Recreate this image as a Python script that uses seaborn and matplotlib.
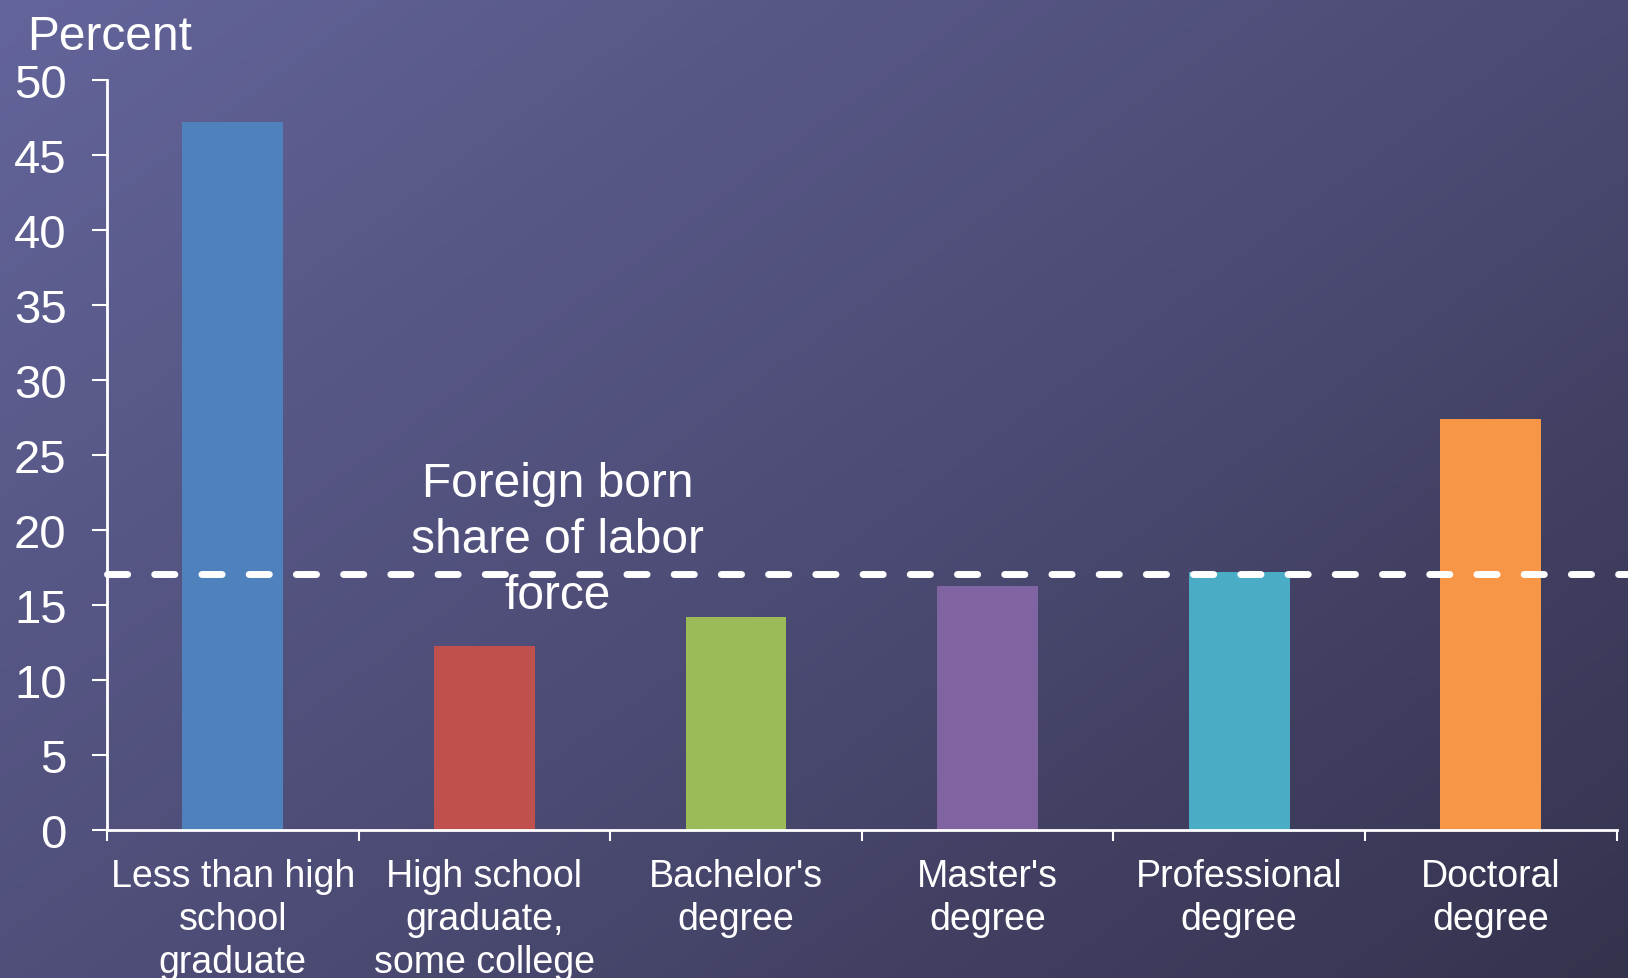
import numpy as np
import pandas as pd
import seaborn as sns
import matplotlib.pyplot as plt
from matplotlib.colors import LinearSegmentedColormap

# data
categories = ["Less than high\nschool\ngraduate", "High school\ngraduate,\nsome college",
              "Bachelor's\ndegree", "Master's\ndegree", "Professional\ndegree", "Doctoral\ndegree"]
values = [47.2, 12.3, 14.2, 16.3, 17.2, 27.4]
labor_force_share = 17.1
yticks = [0, 5, 10, 15, 20, 25, 30, 35, 40, 45, 50]
bar_colors = ["#4f81bd", "#c0504d", "#9bbb59", "#8064a2", "#4bacc6", "#f79646"]

df = pd.DataFrame({"edu": categories, "pct": values})

sns.set_theme(style="white")
plt.rcParams['font.family'] = ['Liberation Sans', 'DejaVu Sans']

fig = plt.figure(figsize=(16.28, 9.79), dpi=100)

# background gradient (top-left light to bottom-right dark)
bg = fig.add_axes([0, 0, 1, 1], zorder=-10)
xx, yy = np.meshgrid(np.linspace(0, 1, 400), np.linspace(0, 1, 240))
grad = (xx * 0.55 + yy * 0.45)
cmap = LinearSegmentedColormap.from_list("bg", ["#63649a", "#4e4d77", "#34334e"])
bg.imshow(grad, cmap=cmap, aspect='auto', extent=[0, 1, 0, 1], origin='upper')
bg.axis('off')

ax = fig.add_axes([0.0657, 0.151, 0.9273, 0.766])
ax.patch.set_alpha(0)

sns.barplot(data=df, x="edu", y="pct", hue="edu", palette=bar_colors,
            width=0.4, legend=False, ax=ax, saturation=1, linewidth=0)

ax.hlines(labor_force_share, -0.5, 5.56, color="white", lw=5,
          linestyles=(0, (2.9, 3.9)), capstyle='round', zorder=5, clip_on=False)

ax.text(1.29, 19.4, "Foreign born\nshare of labor\nforce", color="white",
        fontsize=34.5, ha="center", va="center", linespacing=1.31, zorder=6)

ax.set_xlim(-0.5, 5.5)
ax.set_ylim(0, 50)
ax.set_yticks(yticks)
ax.set_xlabel("")
ax.set_ylabel("")

for s in ["top", "right"]:
    ax.spines[s].set_visible(False)
for s in ["left", "bottom"]:
    ax.spines[s].set_color("white")
    ax.spines[s].set_linewidth(2)

ax.tick_params(axis='y', colors='white', labelsize=34, length=11, width=1.5,
               direction='out', pad=18, left=True)
ax.tick_params(axis='x', which='major', colors='white', labelsize=27, length=0, pad=20)
ax.set_xticks(np.arange(-0.5, 6, 1), minor=True)
ax.tick_params(axis='x', which='minor', color='white', length=8, width=1.5,
               direction='out', bottom=True)
for lab in ax.get_xticklabels():
    lab.set_linespacing(1.25)

fig.text(27 / 1628, 1 - 50 / 979, "Percent", color="white", fontsize=34.5,
         ha="left", va="baseline")

fig.savefig("out.png", dpi=100)
